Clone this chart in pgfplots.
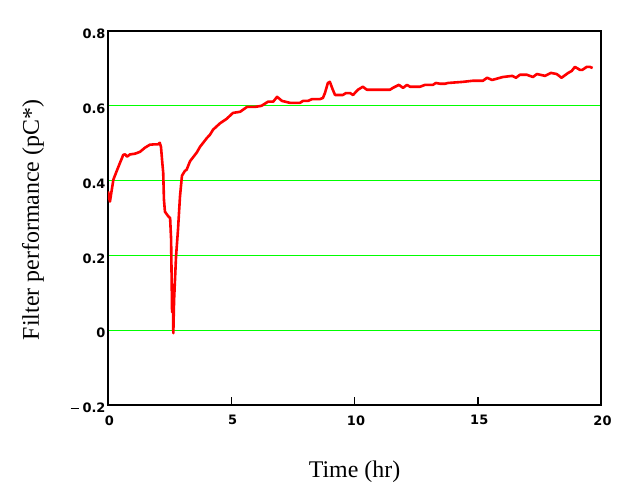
\documentclass[border=0pt]{standalone}
\usepackage{fontspec}
\setmainfont{Liberation Serif}
\setsansfont{DejaVu Sans}
\usepackage{pgfplots}
\pgfplotsset{compat=1.18}
\definecolor{grgreen}{RGB}{0,255,0}
\definecolor{curvered}{RGB}{255,0,0}
\begin{document}
\begin{tikzpicture}
\useasboundingbox (-108bp,-92bp) rectangle (526bp,405bp);
\begin{axis}[
  at={(0,0)}, anchor=south west,
  scale only axis, width=493bp, height=374bp,
  xmin=0, xmax=20, ymin=-0.2, ymax=0.8,
  xtick={0,5,10,15,20}, xticklabels={0,5,10,15,20},
  ytick={-0.2,0,0.2,0.4,0.6,0.8},
  yticklabels={{\raisebox{3.5bp}{\rule{8bp}{1bp}}\hspace{4bp}0.2},0,0.2,0.4,0.6,0.8},
  xtick pos=lower, ytick pos=left,
  tick align=inside, major tick length=8bp,
  xtick style={black, line width=1.5bp},
  ytick style={draw=none},
  axis line style={line width=2bp},
  ymajorgrids, grid style={grgreen, line width=1.1bp},
  ticklabel style={font=\sffamily\bfseries\fontsize{13}{13}\selectfont},
  xticklabel style={yshift=-7bp, xshift=1.5bp},
  yticklabel style={yshift=-3bp, xshift=1bp},
  xlabel={Time (hr)},
  ylabel={Filter performance (pC*)},
  label style={font=\fontsize{24}{24}\selectfont},
  xlabel style={at={(axis description cs:0.5,0)}, anchor=base, yshift=-72bp},
  ylabel style={at={([xshift=-75bp,yshift=-2bp]axis description cs:0,0.5)}, anchor=center},
]
\addplot[curvered, line width=2.6bp, line join=round] coordinates {
(0,0.371) (0.04,0.355) (0.08,0.344) (0.14,0.37) (0.22,0.403) (0.35,0.425)
(0.49,0.448) (0.62,0.469) (0.7,0.47) (0.77,0.464) (0.89,0.47) (1.1,0.472)
(1.3,0.477) (1.5,0.488) (1.7,0.496) (1.9,0.497) (2.03,0.497) (2.1,0.501)
(2.15,0.49) (2.2,0.45) (2.24,0.421) (2.27,0.349) (2.31,0.317) (2.45,0.304)
(2.52,0.30) (2.56,0.243) (2.6,0.048) (2.63,0.10) (2.65,-0.008) (2.68,0.08)
(2.7,0.109) (2.76,0.197) (2.84,0.269) (2.92,0.357) (3.0,0.413) (3.12,0.426)
(3.19,0.429) (3.33,0.452) (3.6,0.475) (3.73,0.49) (4.0,0.513) (4.14,0.523)
(4.26,0.536) (4.54,0.553) (4.81,0.565) (5.07,0.581) (5.36,0.584) (5.64,0.597)
(5.96,0.597) (6.23,0.6) (6.49,0.611) (6.7,0.611) (6.86,0.624) (7.06,0.613)
(7.38,0.608) (7.79,0.608) (7.91,0.613) (8.11,0.613) (8.28,0.618) (8.6,0.618)
(8.72,0.621) (8.8,0.634) (8.92,0.661) (9.0,0.664) (9.12,0.643) (9.21,0.629)
(9.53,0.629) (9.65,0.634) (9.82,0.634) (9.94,0.629) (10.14,0.643) (10.34,0.651)
(10.5,0.643) (11.44,0.643) (11.56,0.648) (11.8,0.656) (11.97,0.648) (12.13,0.656)
(12.25,0.651) (12.66,0.651) (12.86,0.656) (13.18,0.656) (13.3,0.661) (13.47,0.659)
(13.67,0.659) (13.79,0.661) (14.4,0.664) (14.8,0.667) (15.21,0.667) (15.38,0.675)
(15.58,0.669) (16.02,0.677) (16.4,0.68) (16.55,0.675) (16.71,0.683) (16.99,0.683)
(17.24,0.677) (17.4,0.685) (17.73,0.68) (17.97,0.688) (18.2,0.685) (18.4,0.675)
(18.67,0.688) (18.81,0.693) (18.94,0.704) (19.15,0.696) (19.24,0.696) (19.42,0.704)
(19.55,0.704) (19.66,0.701)
};
\end{axis}
\end{tikzpicture}
\end{document}
